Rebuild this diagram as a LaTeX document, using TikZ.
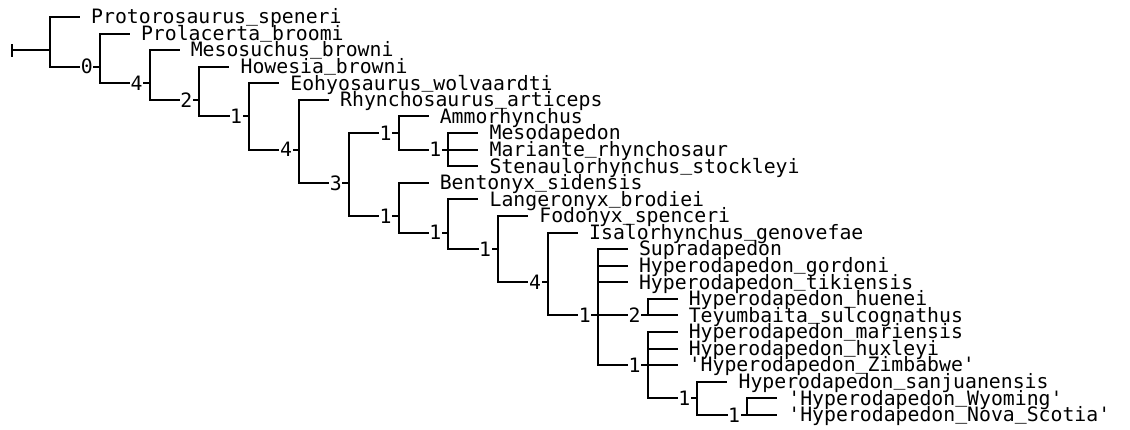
\documentclass[tikz,border=0pt]{standalone}
\usepackage{fontspec}
\newfontfamily\treefont{DejaVu Sans Mono}
\newcommand\treesize{\treefont\fontsize{19.8}{20}\selectfont}
\newcommand\leafat[4]{%
  \coordinate (#1) at ({#2+30},#3);
  \node[taxon] (#1-t) at ({#2+41},{#3+6.8}) {#4};}
\newcommand\sq{\textquotesingle}
\newcommand\us{\raisebox{0.13em}{\_}}
\begin{document}
\begin{tikzpicture}[x=1pt,y=-1pt,
  branch/.style={line width=2pt, black},
  taxon/.style={anchor=base west, inner sep=0pt, font=\treesize, text=black},
  support/.style={anchor=center, inner xsep=0.6pt, inner ysep=0pt, fill=white, font=\treesize, text=black}]
\useasboundingbox[fill=white] (0,0) rectangle (1130,430);

% internal nodes
\coordinate (root) at (12,50.16);
\coordinate (R)   at (50,50.16);
\coordinate (N0)  at (99.8,66.74);
\coordinate (N4a) at (149.6,83.32);
\coordinate (N2)  at (199.4,99.9);
\coordinate (N1a) at (249.2,116.48);
\coordinate (N4b) at (299,149.64);
\coordinate (N3)  at (348.8,182.8);
\coordinate (N1b) at (398.6,133.06);
\coordinate (N1c) at (448.4,149.64);
\coordinate (N1d) at (398.6,215.96);
\coordinate (N1e) at (448.4,232.54);
\coordinate (N1f) at (498.2,249.12);
\coordinate (N4c) at (548,282.28);
\coordinate (N1g) at (597.8,315.44);
\coordinate (N2b) at (647.6,315.44);
\coordinate (N1h) at (647.6,365.18);
\coordinate (N1i) at (697.4,398.34);
\coordinate (N1j) at (747.2,414.92);

% leaves
\leafat{proto}{50}{17}{Protorosaurus\us speneri}
\leafat{prola}{99.8}{33.58}{Prolacerta\us broomi}
\leafat{meso}{149.6}{50.16}{Mesosuchus\us browni}
\leafat{howe}{199.4}{66.74}{Howesia\us browni}
\leafat{eohy}{249.2}{83.32}{Eohyosaurus\us wolvaardti}
\leafat{rhyn}{299}{99.9}{Rhynchosaurus\us articeps}
\leafat{ammo}{398.6}{116.48}{Ammorhynchus}
\leafat{mesod}{448.4}{133.06}{Mesodapedon}
\leafat{maria}{448.4}{149.64}{Mariante\us rhynchosaur}
\leafat{stena}{448.4}{166.22}{Stenaulorhynchus\us stockleyi}
\leafat{bento}{398.6}{182.8}{Bentonyx\us sidensis}
\leafat{lange}{448.4}{199.38}{Langeronyx\us brodiei}
\leafat{fodo}{498.2}{215.96}{Fodonyx\us spenceri}
\leafat{isal}{548}{232.54}{Isalorhynchus\us genovefae}
\leafat{supra}{597.8}{249.12}{Supradapedon}
\leafat{gord}{597.8}{265.7}{Hyperodapedon\us gordoni}
\leafat{tiki}{597.8}{282.28}{Hyperodapedon\us tikiensis}
\leafat{huen}{647.6}{298.86}{Hyperodapedon\us huenei}
\leafat{teyu}{647.6}{315.44}{Teyumbaita\us sulcognathus}
\leafat{mari}{647.6}{332.02}{Hyperodapedon\us mariensis}
\leafat{huxl}{647.6}{348.6}{Hyperodapedon\us huxleyi}
\leafat{zimb}{647.6}{365.18}{\sq Hyperodapedon\us Zimbabwe\sq}
\leafat{sanj}{697.4}{381.76}{Hyperodapedon\us sanjuanensis}
\leafat{wyom}{747.2}{398.34}{\sq Hyperodapedon\us Wyoming\sq}
\leafat{nova}{747.2}{414.92}{\sq Hyperodapedon\us Nova\us Scotia\sq}

% branches
\draw[branch] ([yshift=-6.5pt]root) -- ([yshift=6.5pt]root);
\draw[branch] (root) -- (R);
\draw[branch] (R) |- (proto);  \draw[branch] (R) |- (N0);
\draw[branch] (N0) |- (prola); \draw[branch] (N0) |- (N4a);
\draw[branch] (N4a) |- (meso); \draw[branch] (N4a) |- (N2);
\draw[branch] (N2) |- (howe);  \draw[branch] (N2) |- (N1a);
\draw[branch] (N1a) |- (eohy); \draw[branch] (N1a) |- (N4b);
\draw[branch] (N4b) |- (rhyn); \draw[branch] (N4b) |- (N3);
\draw[branch] (N3) |- (N1b);   \draw[branch] (N3) |- (N1d);
\draw[branch] (N1b) |- (ammo); \draw[branch] (N1b) |- (N1c);
\draw[branch] (N1c) |- (mesod); \draw[branch] (N1c) |- (maria); \draw[branch] (N1c) |- (stena);
\draw[branch] (N1d) |- (bento); \draw[branch] (N1d) |- (N1e);
\draw[branch] (N1e) |- (lange); \draw[branch] (N1e) |- (N1f);
\draw[branch] (N1f) |- (fodo);  \draw[branch] (N1f) |- (N4c);
\draw[branch] (N4c) |- (isal);  \draw[branch] (N4c) |- (N1g);
\draw[branch] (N1g) |- (supra); \draw[branch] (N1g) |- (gord); \draw[branch] (N1g) |- (tiki);
\draw[branch] (N1g) |- (N2b);   \draw[branch] (N1g) |- (N1h);
\draw[branch] (N2b) |- (huen);  \draw[branch] (N2b) |- (teyu);
\draw[branch] (N1h) |- (mari);  \draw[branch] (N1h) |- (huxl); \draw[branch] (N1h) |- (zimb);
\draw[branch] (N1h) |- (N1i);
\draw[branch] (N1i) |- (sanj);  \draw[branch] (N1i) |- (N1j);
\draw[branch] (N1j) |- (wyom);  \draw[branch] (N1j) |- (nova);

% support values
\node[support] (s0)   at ([xshift=-13pt]N0)  {0};
\node[support] (s4a)  at ([xshift=-13pt]N4a) {4};
\node[support] (s2)   at ([xshift=-13pt]N2)  {2};
\node[support] (s1a)  at ([xshift=-13pt]N1a) {1};
\node[support] (s4b)  at ([xshift=-13pt]N4b) {4};
\node[support] (s3)   at ([xshift=-13pt]N3)  {3};
\node[support] (s1b)  at ([xshift=-13pt]N1b) {1};
\node[support] (s1c)  at ([xshift=-13pt]N1c) {1};
\node[support] (s1d)  at ([xshift=-13pt]N1d) {1};
\node[support] (s1e)  at ([xshift=-13pt]N1e) {1};
\node[support] (s1f)  at ([xshift=-13pt]N1f) {1};
\node[support] (s4c)  at ([xshift=-13pt]N4c) {4};
\node[support] (s1g)  at ([xshift=-13pt]N1g) {1};
\node[support] (s2b)  at ([xshift=-13pt]N2b) {2};
\node[support] (s1h)  at ([xshift=-13pt]N1h) {1};
\node[support] (s1i)  at ([xshift=-13pt]N1i) {1};
\node[support] (s1j)  at ([xshift=-13pt]N1j) {1};
\end{tikzpicture}
\end{document}
